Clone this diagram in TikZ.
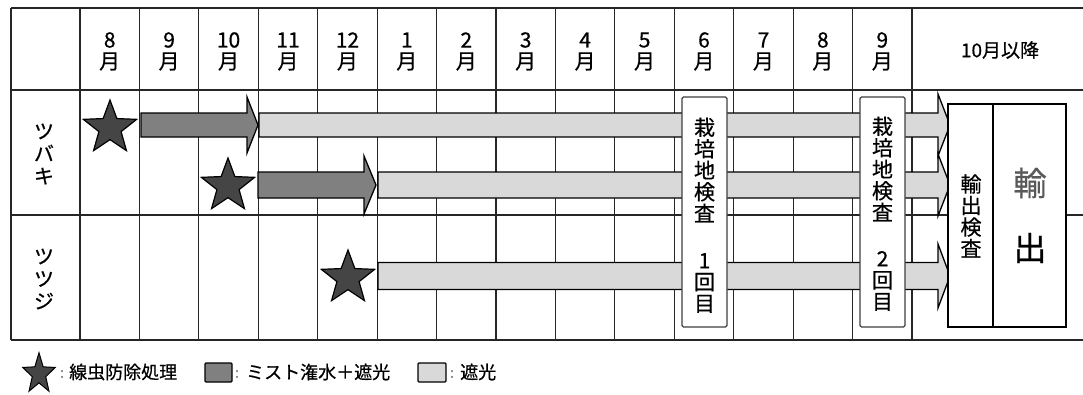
\documentclass[tikz,border=0pt]{standalone}
\usepackage{fontspec}
\setmainfont{Noto Sans CJK JP}[FakeBold=0.6]
\newfontfamily\jp{Noto Sans CJK JP}
\usetikzlibrary{shapes.geometric}
\definecolor{darkfill}{gray}{0.5}
\definecolor{lightfill}{gray}{0.85}
\definecolor{starfill}{gray}{0.27}
\definecolor{linec}{gray}{0.15}
\newcommand{\blockarrow}[7]{%
  \draw[#1] (#2,#5-#6) -- (#3,#5-#6) -- (#3,#5-#7) -- (#4,#5) -- (#3,#5+#7) -- (#3,#5+#6) -- (#2,#5+#6) -- cycle;}
\begin{document}
\begin{tikzpicture}[x=1pt,y=-1pt,
  gridline/.style={draw=linec, line width=1.2pt},
  darkarr/.style={fill=darkfill, draw=black, line width=1.3pt, line join=miter},
  lightarr/.style={fill=lightfill, draw=black, line width=1.3pt, line join=miter},
  starmark/.style={star, star points=5, star point ratio=2.4, inner sep=0pt, minimum size=56pt, fill=starfill, draw=black, line width=1.2pt},
  inspbox/.style={draw=black!75, fill=white, line width=1.2pt, rounded corners=1.5pt},
  exbox/.style={draw=black, fill=white, line width=1.3pt},
  hdr/.style={font=\fontsize{21}{22}\selectfont, inner sep=0pt, align=center},
  vtext/.style={font=\fontsize{21}{21.5}\selectfont, inner sep=0pt, align=center},
  legtext/.style={font=\fontsize{18}{20}\selectfont, inner sep=0pt, anchor=west},
  colon/.style={font=\fontsize{14}{16}\selectfont, text=black!55, inner sep=0pt},
  legbox/.style={draw=black, line width=1.3pt, rounded corners=1pt}
]
\useasboundingbox (0,0) rectangle (1083,394);
\fill[white] (0,0) rectangle (1083,394);

% grid
\foreach \yy in {8,90,215,340} \draw[gridline] (11,\yy) -- (1083,\yy);
\draw[gridline] (11,8) -- (11,340);
\foreach \i in {0,...,14} \draw[gridline] ({80+\i*59.43},8) -- ({80+\i*59.43},340);

% header
\foreach \m [count=\i from 0] in {8,9,10,11,12,1,2,3,4,5,6,7,8,9} {
  \node[hdr] (m\i) at ({80+\i*59.43+29.7},40) {\m};
  \node[hdr] (mm\i) at ({80+\i*59.43+29.7},61.5) {月};
}
\node[hdr, font=\fontsize{19}{20}\selectfont] (later) at (1000,50) {10月以降};

% row labels
\node[vtext, font=\fontsize{20}{22.5}\selectfont] (tsubaki) at (44,154) {ツ\\バ\\キ};
\node[vtext, font=\fontsize{20}{22.5}\selectfont] (tsutsuji) at (44,279) {ツ\\ツ\\ジ};

% arrows
\blockarrow{darkarr}{141}{247}{258}{125}{12}{28}
\blockarrow{lightarr}{259}{938}{950}{125}{12}{31}
\blockarrow{darkarr}{258}{364}{376}{185}{13}{29}
\blockarrow{lightarr}{378}{938}{950}{185}{13}{31}
\blockarrow{lightarr}{378}{938}{950}{276}{13.5}{32}

% stars
\node[starmark] (s1) at (110,128) {};
\node[starmark] (s2) at (228,186) {};
\node[starmark] (s3) at (348,278) {};

% inspection boxes
\draw[inspbox] (682,97) rectangle (727,327);
\node[vtext] (i1a) at (704.5,170) {栽\\培\\地\\検\\査};
\node[vtext] (i1b) at (704.5,283) {1\\回\\目};
\draw[inspbox] (860,97) rectangle (905,327);
\node[vtext] (i2a) at (882.5,169) {栽\\培\\地\\検\\査};
\node[vtext] (i2b) at (882.5,281) {2\\回\\目};

% export box
\draw[exbox] (948,104) rectangle (1066,327);
\draw[exbox] (993,104) -- (993,327);
\node[vtext] (exinsp) at (971,216) {輸\\出\\検\\査};
\node[font=\fontsize{33}{34}\selectfont, text=black!65, inner sep=0pt] (ex1) at (1030,183) {輸};
\node[font=\fontsize{33}{34}\selectfont, inner sep=0pt] (ex2) at (1030,248) {出};

% legend
\node[starmark, minimum size=34pt, yscale=1.25, line width=1pt] (ls) at (39,374) {};
\node[colon] (c1) at (62,374) {:};
\node[legtext] (l1) at (69,372) {線虫防除処理};
\draw[legbox, fill=darkfill] (205,363) rectangle (232,382);
\node[colon] (c2) at (237,374) {:};
\node[legtext] (l2) at (246,372) {ミスト潅水＋遮光};
\draw[legbox, fill=lightfill] (418,363) rectangle (446,382);
\node[colon] (c3) at (452,374) {:};
\node[legtext] (l3) at (460,372) {遮光};
\end{tikzpicture}
\end{document}
